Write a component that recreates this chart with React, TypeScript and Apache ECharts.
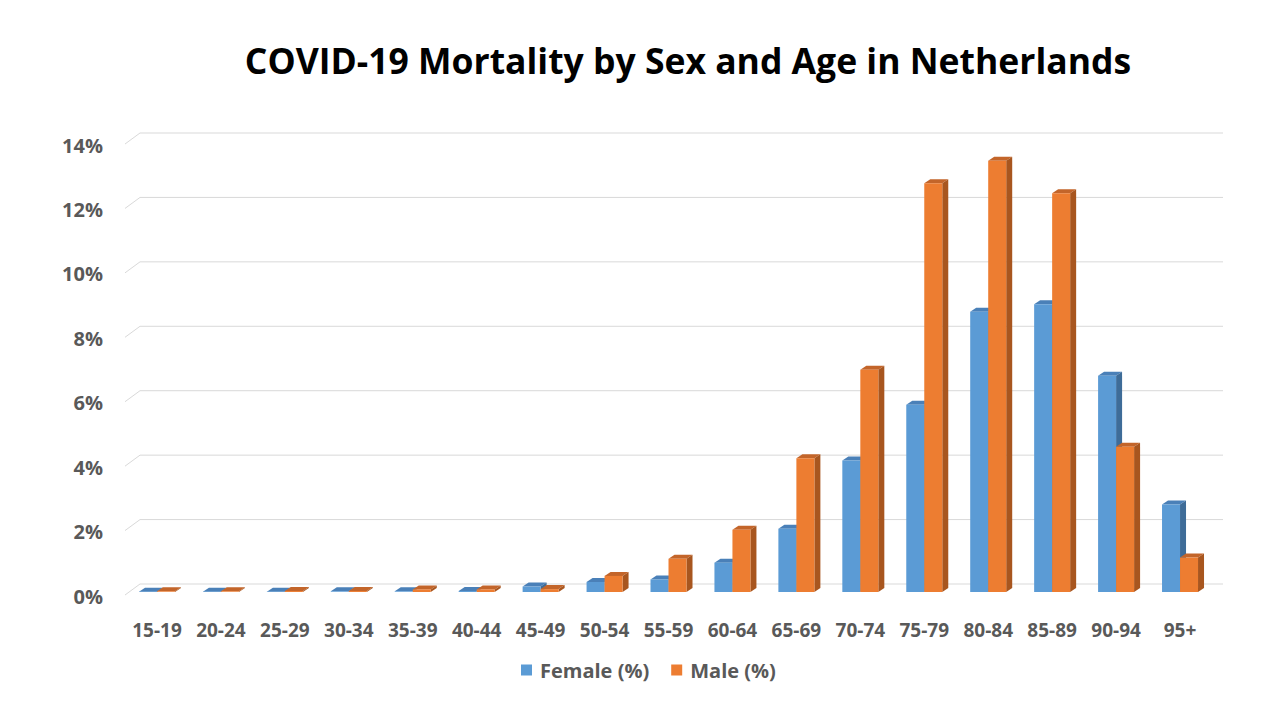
import React, { useEffect, useRef } from "react";
import * as echarts from "echarts";

const categories = ["15-19", "20-24", "25-29", "30-34", "35-39", "40-44", "45-49", "50-54", "55-59", "60-64", "65-69", "70-74", "75-79", "80-84", "85-89", "90-94", "95+"];
const female = [0.01, 0.01, 0.01, 0.02, 0.02, 0.03, 0.17, 0.31, 0.39, 0.91, 1.96, 4.08, 5.81, 8.7, 8.93, 6.71, 2.72];
const male = [0.02, 0.02, 0.03, 0.03, 0.08, 0.08, 0.09, 0.5, 1.03, 1.93, 4.15, 6.9, 12.69, 13.39, 12.38, 4.51, 1.07];
const yTicks = [0, 2, 4, 6, 8, 10, 12, 14];

const FEMALE = { front: "#5B9BD5", top: "#4A80B8", side: "#3E6C98" };
const MALE = { front: "#ED7D31", top: "#C3652A", side: "#A8561F" };

const FONT = "'Open Sans', 'Noto Sans', sans-serif";

function makeBar(offset: number, c: { front: string; top: string; side: string }) {
  return (params: any, api: any) => {
    const idx = api.value(0);
    const v = api.value(1);
    const p = api.coord([idx, v]);
    const p0 = api.coord([idx, 0]);
    const w = 18;
    const x = p[0] + offset;
    const y = p[1];
    const yb = p0[1];
    const dx = 6;
    const dy = -4;
    return {
      type: "group",
      children: [
        { type: "polygon", shape: { points: [[x, y], [x + dx, y + dy], [x + w + dx, y + dy], [x + w, y]] }, style: { fill: c.top } },
        { type: "polygon", shape: { points: [[x + w, y], [x + w + dx, y + dy], [x + w + dx, yb + dy], [x + w, yb]] }, style: { fill: c.side } },
        { type: "rect", shape: { x, y, width: w, height: yb - y }, style: { fill: c.front } },
      ],
    };
  };
}

export default function App() {
  const ref = useRef<HTMLDivElement>(null);
  useEffect(() => {
    if (!ref.current) return;
    const chart = echarts.init(ref.current, null, { renderer: "svg" });
    chart.setOption({
      animation: false,
      backgroundColor: "#ffffff",
      graphic: [
        {
          type: "text",
          x: 688,
          y: 60,
          style: {
            text: "COVID-19 Mortality by Sex and Age in Netherlands",
            fill: "#000000",
            font: `bold 35.5px ${FONT}`,
            textAlign: "center",
            textVerticalAlign: "middle",
          },
        },
      ],
      legend: {
        left: 516,
        top: 655,
        icon: "rect",
        itemWidth: 11,
        itemHeight: 11,
        itemGap: 22,
        textStyle: { color: "#595959", fontSize: 20, fontWeight: "bold", fontFamily: FONT, padding: [0, 0, 0, 3] },
        data: ["Female (%)", "Male (%)"],
      },
      grid: { left: 125, right: 68, top: 141, bottom: 128 },
      xAxis: {
        type: "category",
        data: categories,
        axisLine: { show: false },
        axisTick: { show: false },
        axisLabel: { color: "#595959", fontSize: 19, fontWeight: "bold", fontFamily: FONT, margin: 28, interval: 0 },
      },
      yAxis: {
        type: "value",
        min: 0,
        max: 14,
        interval: 2,
        axisLine: { show: false },
        axisTick: { show: false },
        splitLine: { show: false },
        axisLabel: { color: "#595959", fontSize: 20, fontWeight: "bold", fontFamily: FONT, margin: 22, verticalAlign: "top", lineHeight: 8, formatter: "{value}%" },
      },
      series: [
        {
          type: "custom",
          name: "walls",
          z: 1,
          silent: true,
          data: yTicks.map((t) => [0, t]),
          encode: { x: 0, y: 1 },
          renderItem: (params: any, api: any) => {
            const cs = params.coordSys;
            const y = api.coord([0, api.value(1)])[1];
            const left = cs.x;
            const right = cs.x + cs.width;
            return {
              type: "polyline",
              shape: { points: [[left, y + 3], [left + 15, y - 8], [right + 11, y - 8]] },
              style: { stroke: "#D9D9D9", lineWidth: 1, fill: "none" },
            };
          },
        },
        {
          type: "custom",
          name: "Female (%)",
          z: 2,
          itemStyle: { color: FEMALE.front },
          data: female.map((v, i) => [i, v]),
          encode: { x: 0, y: 1 },
          renderItem: makeBar(-18, FEMALE),
        },
        {
          type: "custom",
          name: "Male (%)",
          z: 3,
          itemStyle: { color: MALE.front },
          data: male.map((v, i) => [i, v]),
          encode: { x: 0, y: 1 },
          renderItem: makeBar(0, MALE),
        },
      ],
    });
    return () => chart.dispose();
  }, []);
  return <div ref={ref} style={{ width: 1280, height: 720, position: "absolute", left: 0, top: 0 }} />;
}
